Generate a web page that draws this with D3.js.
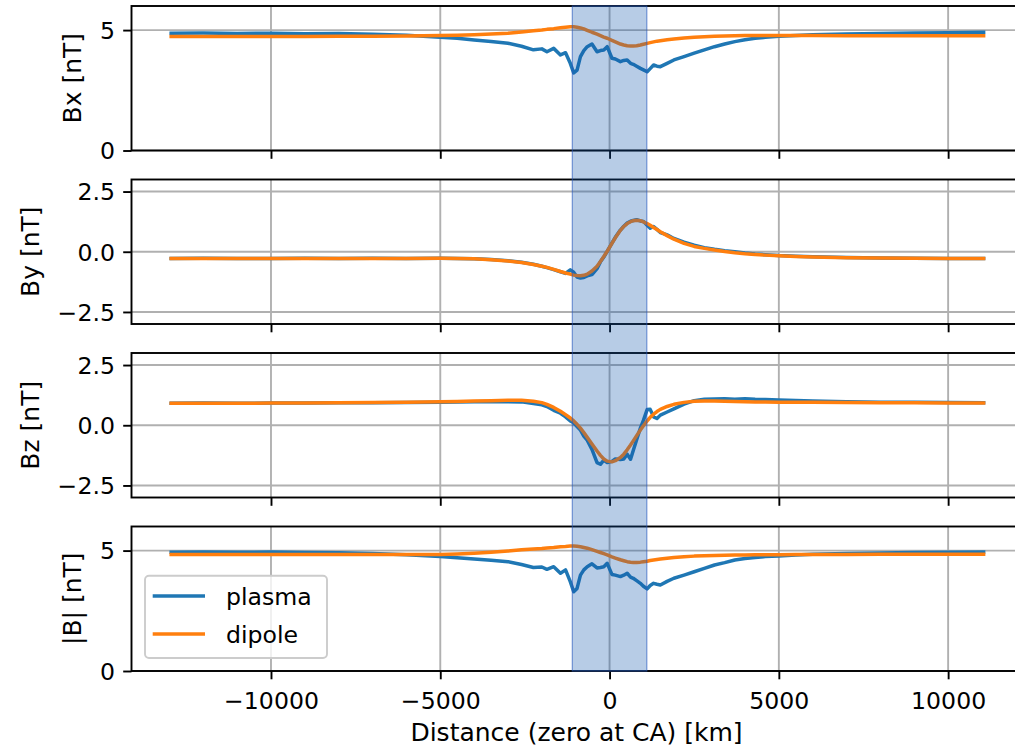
<!DOCTYPE html>
<html>
<head>
<meta charset="utf-8">
<script src="https://cdn.jsdelivr.net/npm/d3@7"></script>
<style>
  html, body { margin: 0; padding: 0; background: #fff; }
  svg { display: block; }
  text { font-family: "DejaVu Sans", sans-serif; fill: #000; }
</style>
</head>
<body>
<svg id="chart" width="1015" height="750"></svg>
<script>
// Distance along the track, km (zero at closest approach)
const distance = [
  -13000, -12000, -11000, -10000, -9000, -8000, -7000, -6000, -5000, -4500,
  -4000, -3500, -3000, -2600, -2250, -2000, -1850, -1650, -1450, -1300,
  -1160, -1060, -960, -860, -760, -660, -520, -370, -270, -170,
  -70, 70, 170, 320, 420, 520, 620, 700, 800, 910,
  1000, 1110, 1200, 1300, 1400, 1500, 1700, 1900, 2200, 2500,
  2800, 3100, 3400, 3700, 4000, 4300, 4600, 5000, 5500, 6000,
  7000, 8000, 9000, 10000, 11100
];

// Magnetic field components, nT
const bxPlasma = [
  4.87, 4.88, 4.86, 4.87, 4.85, 4.86, 4.83, 4.79, 4.70, 4.66,
  4.59, 4.53, 4.45, 4.33, 4.18, 4.22, 4.10, 4.24, 3.97, 4.06,
  3.62, 3.22, 3.34, 3.90, 4.15, 4.31, 4.42, 4.10, 4.15, 4.17,
  4.31, 3.83, 3.80, 3.69, 3.74, 3.76, 3.62, 3.58, 3.50, 3.41,
  3.35, 3.27, 3.40, 3.55, 3.50, 3.48, 3.62, 3.76, 3.90, 4.04,
  4.18, 4.31, 4.42, 4.52, 4.60, 4.66, 4.70, 4.74, 4.78, 4.81,
  4.84, 4.86, 4.88, 4.89, 4.91
];
const bxDipole = [
  4.73, 4.73, 4.73, 4.73, 4.73, 4.74, 4.74, 4.75, 4.77, 4.79,
  4.81, 4.84, 4.87, 4.92, 4.97, 5.00, 5.03, 5.06, 5.10, 5.12,
  5.14, 5.14, 5.12, 5.09, 5.05, 4.99, 4.91, 4.83, 4.77, 4.71,
  4.66, 4.57, 4.51, 4.42, 4.38, 4.35, 4.34, 4.34, 4.35, 4.38,
  4.41, 4.45, 4.48, 4.51, 4.54, 4.56, 4.60, 4.63, 4.67, 4.70,
  4.72, 4.74, 4.75, 4.76, 4.77, 4.77, 4.77, 4.77, 4.77, 4.77,
  4.76, 4.76, 4.76, 4.76, 4.76
];
const byPlasma = [
  -0.28, -0.27, -0.28, -0.28, -0.27, -0.28, -0.27, -0.28, -0.27, -0.28,
  -0.29, -0.32, -0.37, -0.44, -0.52, -0.60, -0.66, -0.74, -0.83, -0.90,
  -0.75, -0.85, -1.05, -1.09, -1.07, -1.00, -0.95, -0.70, -0.42, -0.22,
  0.02, 0.36, 0.60, 0.90, 1.06, 1.19, 1.27, 1.30, 1.33, 1.28,
  1.26, 1.10, 0.98, 1.05, 0.93, 0.80, 0.70, 0.55, 0.40, 0.27,
  0.17, 0.10, 0.04, 0.00, -0.05, -0.09, -0.12, -0.16, -0.19, -0.21,
  -0.24, -0.26, -0.27, -0.28, -0.28
];
const byDipole = [
  -0.28, -0.28, -0.28, -0.28, -0.28, -0.28, -0.28, -0.28, -0.27, -0.28,
  -0.29, -0.33, -0.38, -0.45, -0.53, -0.60, -0.65, -0.73, -0.82, -0.88,
  -0.93, -0.97, -0.99, -1.00, -0.98, -0.93, -0.80, -0.60, -0.40, -0.20,
  0.02, 0.35, 0.58, 0.89, 1.05, 1.17, 1.25, 1.29, 1.31, 1.29,
  1.24, 1.17, 1.10, 1.01, 0.92, 0.83, 0.67, 0.52, 0.35, 0.22,
  0.14, 0.07, 0.01, -0.04, -0.08, -0.11, -0.14, -0.17, -0.20, -0.22,
  -0.25, -0.26, -0.27, -0.28, -0.28
];
const bzPlasma = [
  0.91, 0.92, 0.91, 0.92, 0.92, 0.93, 0.93, 0.94, 0.96, 0.97,
  0.98, 0.99, 0.98, 0.97, 0.90, 0.85, 0.78, 0.62, 0.50, 0.35,
  0.18, 0.10, -0.05, -0.20, -0.45, -0.62, -1.00, -1.55, -1.62, -1.45,
  -1.55, -1.50, -1.40, -1.42, -1.40, -1.20, -1.41, -1.05, -0.60, -0.12,
  0.20, 0.65, 0.66, 0.35, 0.28, 0.42, 0.55, 0.68, 0.88, 1.02,
  1.08, 1.09, 1.10, 1.08, 1.10, 1.08, 1.07, 1.05, 1.03, 1.01,
  0.98, 0.96, 0.95, 0.94, 0.93
];
const bzDipole = [
  0.91, 0.91, 0.91, 0.92, 0.92, 0.93, 0.94, 0.95, 0.98, 0.99,
  1.01, 1.02, 1.04, 1.04, 1.00, 0.94, 0.87, 0.74, 0.58, 0.44,
  0.30, 0.18, 0.04, -0.12, -0.30, -0.50, -0.78, -1.07, -1.25, -1.40,
  -1.49, -1.52, -1.47, -1.34, -1.20, -1.02, -0.82, -0.65, -0.43, -0.20,
  -0.02, 0.18, 0.33, 0.46, 0.57, 0.66, 0.78, 0.87, 0.95, 1.00,
  1.01, 1.01, 1.00, 0.99, 0.98, 0.97, 0.97, 0.96, 0.95, 0.95,
  0.94, 0.93, 0.93, 0.92, 0.92
];
const bPlasma = [
  4.93, 4.94, 4.93, 4.94, 4.92, 4.91, 4.88, 4.83, 4.75, 4.70,
  4.65, 4.60, 4.54, 4.42, 4.30, 4.32, 4.22, 4.33, 4.06, 4.20,
  3.71, 3.29, 3.43, 3.98, 4.20, 4.33, 4.45, 4.28, 4.30, 4.33,
  4.47, 4.01, 3.98, 3.92, 3.98, 4.06, 3.90, 3.85, 3.75, 3.64,
  3.52, 3.41, 3.55, 3.64, 3.60, 3.57, 3.72, 3.85, 3.98, 4.12,
  4.26, 4.40, 4.50, 4.61, 4.67, 4.71, 4.75, 4.78, 4.82, 4.85,
  4.88, 4.90, 4.92, 4.93, 4.94
];
const bDipole = [
  4.84, 4.84, 4.84, 4.84, 4.84, 4.84, 4.84, 4.84, 4.84, 4.86,
  4.89, 4.93, 4.98, 5.03, 5.07, 5.09, 5.11, 5.13, 5.16, 5.17,
  5.19, 5.19, 5.18, 5.16, 5.13, 5.10, 5.04, 4.97, 4.92, 4.87,
  4.82, 4.74, 4.69, 4.62, 4.58, 4.54, 4.52, 4.51, 4.51, 4.52,
  4.54, 4.56, 4.59, 4.61, 4.63, 4.65, 4.68, 4.71, 4.74, 4.77,
  4.79, 4.80, 4.81, 4.82, 4.82, 4.83, 4.83, 4.83, 4.84, 4.84,
  4.84, 4.85, 4.85, 4.85, 4.85
];

// Axis ticks and labels
const xTicks = [-10000, -5000, 0, 5000, 10000];
const xTickLabels = ["\u221210000", "\u22125000", "0", "5000", "10000"];
const magTicks = [0, 5];
const magTickLabels = ["0", "5"];
const compTicks = [-2.5, 0, 2.5];
const compTickLabels = ["\u22122.5", "0.0", "2.5"];
const yLabels = ["Bx [nT]", "By [nT]", "Bz [nT]", "|B| [nT]"];
const seriesNames = ["plasma", "dipole"];
const xLabel = "Distance (zero at CA) [km]";

// Shaded interval around closest approach, km
const spanRange = [-1100, 1100];

const colors = { plasma: "#1f77b4", dipole: "#ff7f0e" };

const panels = [
  { plasma: bxPlasma, dipole: bxDipole, domain: [0, 6], ticks: magTicks, labels: magTickLabels, title: yLabels[0] },
  { plasma: byPlasma, dipole: byDipole, domain: [-3, 3], ticks: compTicks, labels: compTickLabels, title: yLabels[1] },
  { plasma: bzPlasma, dipole: bzDipole, domain: [-3, 3], ticks: compTicks, labels: compTickLabels, title: yLabels[2] },
  { plasma: bPlasma, dipole: bDipole, domain: [0, 6], ticks: magTicks, labels: magTickLabels, title: yLabels[3] }
];

const svg = d3.select("#chart");
const fontSize = 23.6;
const labelFontSize = 25;
const left = 131.5;
const right = 1026;
const panelTops = [6, 179.5, 353, 526.5];
const panelH = 144.5;
const tickLen = 8.3;
const tickPad = 8.3;
const spineW = 1.9;

const x = d3.scaleLinear().domain([-14120, 12300]).range([left, right]);

panels.forEach((p, i) => {
  const top = panelTops[i];
  const y = d3.scaleLinear().domain(p.domain).range([top + panelH, top]);
  const g = svg.append("g");

  // grid
  g.append("g").selectAll("line").data(xTicks).join("line")
    .attr("x1", d => x(d)).attr("x2", d => x(d))
    .attr("y1", top).attr("y2", top + panelH)
    .attr("stroke", "#b0b0b0").attr("stroke-width", 1.9);
  g.append("g").selectAll("line").data(p.ticks).join("line")
    .attr("x1", left).attr("x2", right)
    .attr("y1", d => y(d)).attr("y2", d => y(d))
    .attr("stroke", "#b0b0b0").attr("stroke-width", 1.9);

  // curves
  const line = vals => d3.line()
    .x((d, k) => x(distance[k]))
    .y(d => y(d))(vals);
  ["plasma", "dipole"].forEach(name => {
    g.append("path")
      .attr("d", line(p[name]))
      .attr("fill", "none")
      .attr("stroke", colors[name])
      .attr("stroke-width", 3.5)
      .attr("stroke-linejoin", "round")
      .attr("stroke-linecap", "butt");
  });

  // frame
  g.append("rect")
    .attr("x", left).attr("y", top)
    .attr("width", right - left).attr("height", panelH)
    .attr("fill", "none").attr("stroke", "#000").attr("stroke-width", spineW);

  // y axis
  const yAxis = d3.axisLeft(y)
    .tickValues(p.ticks)
    .tickFormat((d, k) => p.labels[k])
    .tickSize(tickLen).tickPadding(tickPad);
  const ya = g.append("g").attr("transform", `translate(${left},0)`).call(yAxis);
  ya.select(".domain").remove();
  ya.selectAll(".tick line").attr("stroke", "#000").attr("stroke-width", spineW);
  ya.selectAll(".tick text")
    .attr("font-family", "DejaVu Sans").attr("font-size", fontSize)
    .attr("fill", "#000").attr("dy", "0.35em");

  // widest tick label sets the y label offset
  let maxW = 0;
  ya.selectAll(".tick text").each(function () {
    maxW = Math.max(maxW, this.getComputedTextLength());
  });
  const labelX = left - tickLen - tickPad - maxW - 19;

  // x axis
  const xAxis = d3.axisBottom(x)
    .tickValues(xTicks)
    .tickFormat((d, k) => i === 3 ? xTickLabels[k] : "")
    .tickSize(tickLen).tickPadding(tickPad);
  const xa = g.append("g").attr("transform", `translate(0,${top + panelH})`).call(xAxis);
  xa.select(".domain").remove();
  xa.selectAll(".tick line").attr("stroke", "#000").attr("stroke-width", spineW);
  xa.selectAll(".tick text")
    .attr("font-family", "DejaVu Sans").attr("font-size", fontSize)
    .attr("fill", "#000").attr("dy", "21.4px");

  // y label
  svg.append("text")
    .attr("transform", `translate(${labelX},${top + panelH / 2}) rotate(-90)`)
    .attr("text-anchor", "middle")
    .attr("font-size", labelFontSize)
    .text(p.title);

  // legend in the bottom panel
  if (i === 3) {
    const lg = svg.append("g");
    lg.append("rect")
      .attr("x", 145).attr("y", 575.7).attr("width", 182).attr("height", 82.3)
      .attr("rx", 4).attr("ry", 4)
      .attr("fill", "#fff").attr("fill-opacity", 0.8)
      .attr("stroke", "#cccccc").attr("stroke-width", 1.9);
    seriesNames.forEach((name, k) => {
      const ly = 596 + k * 38;
      lg.append("line")
        .attr("x1", 152.7).attr("x2", 205).attr("y1", ly).attr("y2", ly)
        .attr("stroke", colors[name]).attr("stroke-width", 3.5);
      lg.append("text")
        .attr("x", 226).attr("y", ly + 8.5)
        .attr("font-size", fontSize)
        .text(name);
    });
  }
});

// shaded interval spanning all panels
svg.append("rect")
  .attr("x", x(spanRange[0]))
  .attr("y", panelTops[0])
  .attr("width", x(spanRange[1]) - x(spanRange[0]))
  .attr("height", panelTops[3] + panelH - panelTops[0])
  .attr("fill", "rgb(18,85,172)").attr("fill-opacity", 0.3)
  .attr("stroke", "rgb(40,90,190)").attr("stroke-opacity", 0.6)
  .attr("stroke-width", 1.2);

// x axis label
svg.append("text")
  .attr("x", 576.5)
  .attr("y", 741)
  .attr("text-anchor", "middle")
  .attr("font-size", labelFontSize)
  .text(xLabel);
</script>
</body>
</html>
